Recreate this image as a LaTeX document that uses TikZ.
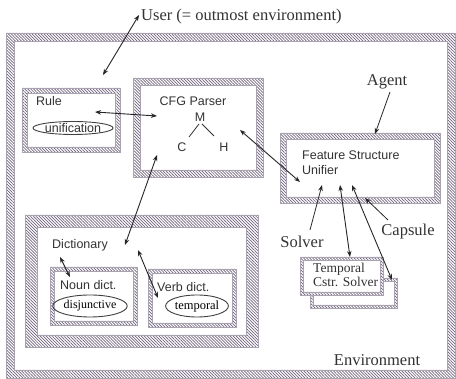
\documentclass[tikz,border=0pt]{standalone}
\usepackage{fontspec}
\setmainfont{Liberation Serif}
\setsansfont{Liberation Sans}
\usetikzlibrary{patterns.meta,arrows.meta,shapes.geometric}
\definecolor{hatchc}{RGB}{112,100,125}
\tikzset{
  x=1pt, y=-1pt,
  hatch/.style={pattern={Lines[angle=-45,distance=2.1pt,line width=0.7pt]}, pattern color=hatchc},
  hedge/.style={draw=hatchc!60, line width=0.25pt},
  sl/.style={font=\sffamily\fontsize{12.5}{14.5}\selectfont, inner sep=0pt, text=black!80},
  rl/.style={font=\fontsize{16.5}{18}\selectfont, inner sep=0pt, text=black!80},
  tl/.style={font=\fontsize{13.5}{14}\selectfont, inner sep=0pt, text=black!80},
  oval/.style={ellipse, draw=black!75, line width=0.9pt, inner sep=0pt},
  conn/.style={line width=0.9pt, draw=black!85, {Stealth[length=6pt,width=4.5pt]}-{Stealth[length=6pt,width=4.5pt]}},
  conna/.style={line width=0.8pt, draw=black!85, -{Stealth[length=6pt,width=4.5pt]}},
  mch/.style={line width=0.8pt, draw=black!80},
}
\newcommand\hframe[5]{%
  \fill[hatch,even odd rule] (#1,#2) rectangle (#3,#4) ({#1+#5},{#2+#5}) rectangle ({#3-#5},{#4-#5});
  \draw[hedge] (#1,#2) rectangle (#3,#4) ({#1+#5},{#2+#5}) rectangle ({#3-#5},{#4-#5});}
\begin{document}
\begin{tikzpicture}
\useasboundingbox[fill=white] (0,0) rectangle (456,379);
% frames
\hframe{6}{33}{455}{378}{8}
\hframe{22}{88}{120}{152}{5}
\hframe{133}{78}{263}{177}{7}
\hframe{280}{133}{440}{203}{6}
\hframe{25}{215}{258}{347}{12}
\hframe{50}{267}{137}{325}{4}
\hframe{148}{269}{236}{327}{4}
\hframe{310}{278}{397}{308}{3}
\fill[white] (300,257) rectangle (383,295);
\hframe{300}{257}{383}{295}{3}
% texts
\node[rl, anchor=west] (user) at (141,17) {User (= outmost environment)};
\node[sl, anchor=west] (rule) at (36,101) {Rule};
\node[oval, minimum width=80pt, minimum height=12pt, sl] (unif) at (73,128) {unification};
\node[sl] (cfg) at (193,101) {CFG Parser};
\node[sl] (m) at (200,117) {M};
\node[sl] (c) at (182,147) {C};
\node[sl] (h) at (224,147) {H};
\node[rl] (agent) at (387,82) {Agent};
\node[sl, anchor=north west, align=left] (fsu) at (302,151) {Feature Structure\\Unifier};
\node[rl] (solver) at (302,242) {Solver};
\node[rl] (capsule) at (408,232) {Capsule};
\node[tl, anchor=north west, align=left] (tcs) at (313,263) {Temporal\\Cstr. Solver};
\node[rl] (env) at (377,360) {Environment};
\node[sl, anchor=west] (dict) at (52,245) {Dictionary};
\node[sl, anchor=west] (noun) at (60,285) {Noun dict.};
\node[oval, minimum width=54pt, minimum height=22pt, font=\fontsize{12}{13}\selectfont] (disj) at (90,306) {disjunctive};
\node[sl, anchor=west] (verb) at (157,287) {Verb dict.};
\node[oval, minimum width=62pt, minimum height=22pt, font=\fontsize{12.5}{13}\selectfont] (temp) at (197,306) {temporal};
% M-C-H lines
\coordinate (m1) at (199,124); \coordinate (c1) at (189,137);
\coordinate (m2) at (202,124); \coordinate (h1) at (214,136);
\draw[mch] (m1) -- (c1);
\draw[mch] (m2) -- (h1);
% connector end points
\coordinate (uA) at (139,15);  \coordinate (uB) at (103,75);
\coordinate (rA) at (95,112);  \coordinate (rB) at (157,116);
\coordinate (fA) at (240,130); \coordinate (fB) at (300,182);
\coordinate (aA) at (390,92);  \coordinate (aB) at (375,134);
\coordinate (sA) at (310,230); \coordinate (sB) at (322,185);
\coordinate (kA) at (388,220); \coordinate (kB) at (365,198);
\coordinate (t1A) at (340,185); \coordinate (t1B) at (350,257);
\coordinate (t2A) at (352,185); \coordinate (t2B) at (392,280);
\coordinate (dA) at (157,155); \coordinate (dB) at (125,245);
\coordinate (nA) at (60,257);  \coordinate (nB) at (70,277);
\coordinate (vA) at (138,250); \coordinate (vB) at (158,298);
\draw[conn] (uA) -- (uB);
\draw[conn] (rA) -- (rB);
\draw[conn] (fA) -- (fB);
\draw[conna] (aA) -- (aB);
\draw[conna] (sA) -- (sB);
\draw[conna] (kA) -- (kB);
\draw[conn] (t1A) -- (t1B);
\draw[conn] (t2A) -- (t2B);
\draw[conn] (dA) -- (dB);
\draw[conn] (nA) -- (nB);
\draw[conn] (vA) -- (vB);
\end{tikzpicture}
\end{document}
